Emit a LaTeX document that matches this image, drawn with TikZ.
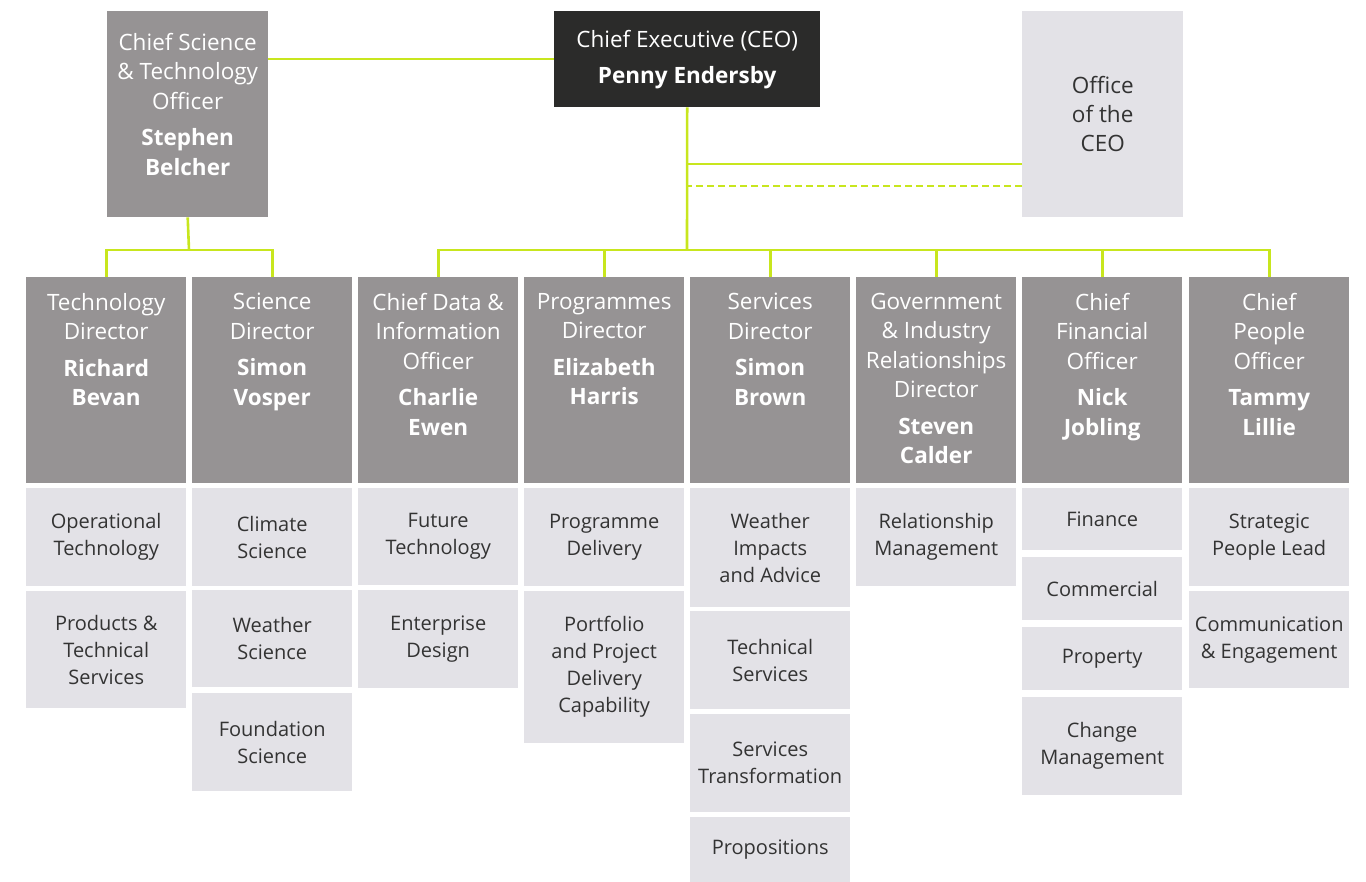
\documentclass[tikz,border=0pt]{standalone}
\usepackage{fontspec}
\setmainfont{Open Sans}
\usetikzlibrary{positioning}

\definecolor{limeline}{RGB}{200,230,30}
\definecolor{ceodark}{RGB}{43,43,42}
\definecolor{dirgrey}{RGB}{150,147,148}
\definecolor{unitgrey}{RGB}{227,226,231}
\definecolor{unittext}{RGB}{51,51,51}

\begin{document}
\begin{tikzpicture}[x=1pt,y=-1pt,
  link/.style={draw=limeline,line width=2.6pt},
  dirbox/.style={rectangle,inner sep=0pt,anchor=north west,minimum width=160pt,minimum height=206pt,fill=dirgrey},
  dirtext/.style={inner sep=0pt,anchor=north,align=center,text=white,font=\fontsize{22.5}{29.5}\selectfont},
  ceobox/.style={rectangle,inner sep=0pt,anchor=north west,minimum width=266pt,minimum height=96pt,fill=ceodark,text=white,align=center,font=\fontsize{22.5}{29}\selectfont},
  unitbox/.style={rectangle,inner sep=0pt,anchor=north west,minimum width=160pt,fill=unitgrey,text=unittext,align=center,font=\fontsize{20}{27}\selectfont}]
\useasboundingbox (0,0) rectangle (1366,882);

% Top row
\node[dirbox,minimum width=161pt] (csto) at (107,11) {};
\node[ceobox] (ceo) at (554,11) {Chief Executive (CEO)\\[7pt]\textbf{Penny Endersby}};
\node[unitbox,minimum width=161pt,minimum height=206pt,font=\fontsize{22.5}{29}\selectfont] (office) at (1022,11) {Office\\of the\\CEO};
\node[dirtext,below=22pt of csto.north] (tCsto) {Chief Science\\\& Technology\\Officer\\[7pt]\textbf{Stephen}\\\textbf{Belcher}};

% Director boxes
\node[dirbox] (dTech) at (26,277) {};
\node[dirbox] (dSci) at (192,277) {};
\node[dirbox] (dData) at (358,277) {};
\node[dirbox] (dProg) at (524,277) {};
\node[dirbox] (dServ) at (690,277) {};
\node[dirbox] (dGov) at (856,277) {};
\node[dirbox] (dFin) at (1022,277) {};
\node[dirbox] (dPeople) at (1189,277) {};

\node[dirtext,below=16pt of dTech.north] (tTech) {Technology\\Director\\[7pt]\textbf{Richard}\\\textbf{Bevan}};
\node[dirtext,below=16pt of dSci.north] (tSci) {Science\\Director\\[7pt]\textbf{Simon}\\\textbf{Vosper}};
\node[dirtext,below=16pt of dData.north] (tData) {Chief Data \&\\Information\\Officer\\[7pt]\textbf{Charlie}\\\textbf{Ewen}};
\node[dirtext,below=16pt of dProg.north] (tProg) {Programmes\\Director\\[7pt]\textbf{Elizabeth}\\\textbf{Harris}};
\node[dirtext,below=16pt of dServ.north] (tServ) {Services\\Director\\[7pt]\textbf{Simon}\\\textbf{Brown}};
\node[dirtext,below=16pt of dGov.north] (tGov) {Government\\\& Industry\\Relationships\\Director\\[7pt]\textbf{Steven}\\\textbf{Calder}};
\node[dirtext,below=16pt of dFin.north] (tFin) {Chief\\Financial\\Officer\\[7pt]\textbf{Nick}\\\textbf{Jobling}};
\node[dirtext,below=16pt of dPeople.north] (tPeople) {Chief\\People\\Officer\\[7pt]\textbf{Tammy}\\\textbf{Lillie}};

% Units
\node[unitbox,minimum height=98pt] (uTech1) at (26,488) {Operational\\Technology};
\node[unitbox,minimum height=117pt] (uTech2) at (26,591) {Products \&\\Technical\\Services};
\node[unitbox,minimum height=98pt] (uSci1) at (192,488) {Climate\\Science};
\node[unitbox,minimum height=97pt] (uSci2) at (192,590) {Weather\\Science};
\node[unitbox,minimum height=98pt] (uSci3) at (192,693) {Foundation\\Science};
\node[unitbox,minimum height=97pt] (uData1) at (358,488) {Future\\Technology};
\node[unitbox,minimum height=98pt] (uData2) at (358,590) {Enterprise\\Design};
\node[unitbox,minimum height=98pt] (uProg1) at (524,488) {Programme\\Delivery};
\node[unitbox,minimum height=152pt] (uProg2) at (524,591) {Portfolio\\and Project\\Delivery\\Capability};
\node[unitbox,minimum height=119pt] (uServ1) at (690,488) {Weather\\Impacts\\and Advice};
\node[unitbox,minimum height=98pt] (uServ2) at (690,611) {Technical\\Services};
\node[unitbox,minimum height=98pt] (uServ3) at (690,714) {Services\\Transformation};
\node[unitbox,minimum height=65pt] (uServ4) at (690,817) {Propositions};
\node[unitbox,minimum height=98pt] (uGov1) at (856,488) {Relationship\\Management};
\node[unitbox,minimum height=62pt] (uFin1) at (1022,488) {Finance};
\node[unitbox,minimum height=63pt] (uFin2) at (1022,557) {Commercial};
\node[unitbox,minimum height=63pt] (uFin3) at (1022,627) {Property};
\node[unitbox,minimum height=98pt] (uFin4) at (1022,697) {Change\\Management};
\node[unitbox,minimum height=98pt] (uPeople1) at (1189,488) {Strategic\\People Lead};
\node[unitbox,minimum height=97pt] (uPeople2) at (1189,591) {Communication\\\& Engagement};

% Connectors
\coordinate (csBus) at (189,250);
\coordinate (ceoBus) at (687,250);
\coordinate (ofcA) at (1022,164);
\coordinate (ofcB) at (1022,186);

\draw[link] (ceo.west) -- (ceo.west -| csto.east);
\draw[link] (csto.south) -- (csBus);
\draw[link] (dTech.north) |- (csBus) -| (dSci.north);
\draw[link] (ceo.south) -- (ceoBus);
\draw[link] (dData.north) |- (ceoBus) -| (dPeople.north);
\draw[link] (dProg.north) -- (dProg.north |- ceoBus);
\draw[link] (dServ.north) -- (dServ.north |- ceoBus);
\draw[link] (dGov.north) -- (dGov.north |- ceoBus);
\draw[link] (dFin.north) -- (dFin.north |- ceoBus);
\draw[link] (ofcA) -- (ceo.south |- ofcA);
\draw[link,dash pattern=on 7pt off 4pt] (ofcB) -- (ceo.south |- ofcB);

\end{tikzpicture}
\end{document}
